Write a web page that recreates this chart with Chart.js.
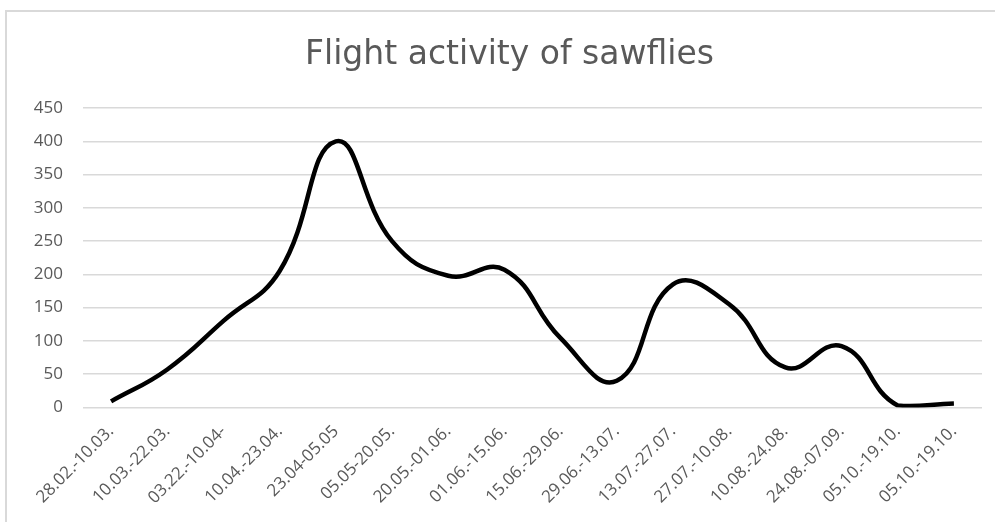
<!DOCTYPE html>
<html>
<head>
<meta charset="utf-8">
<script src="https://cdn.jsdelivr.net/npm/chart.js@4"></script>
<style>
    html, body { margin: 0; padding: 0; background: #fff; overflow: hidden; }
    #frame {
        position: absolute;
        left: 5px;
        top: 10px;
        width: 1020px;
        height: 530px;
        border: 2px solid #d9d9d9;
        box-sizing: border-box;
    }
    #wrap {
        position: absolute;
        left: 7px;
        top: 12px;
        width: 1008px;
        height: 510px;
    }
</style>
</head>
<body>
<div id="frame"></div>
<div id="wrap"><canvas id="sawflyChart"></canvas></div>
<script>
const periods = [
    '28.02.-10.03.', '10.03.-22.03.', '03.22.-10.04-', '10.04.-23.04.',
    '23.04-05.05', '05.05-20.05.', '20.05.-01.06.', '01.06.-15.06.',
    '15.06.-29.06.', '29.06.-13.07.', '13.07.-27.07.', '27.07.-10.08.',
    '10.08.-24.08.', '24.08.-07.09.', '05.10.-19.10.', '05.10.-19.10.'
];
const sawflies = [9, 57, 130, 205, 400, 250, 198, 207, 104, 40, 185, 155, 60, 92, 3, 6];
const yTicks = [0, 50, 100, 150, 200, 250, 300, 350, 400, 450];

const txtColor = '#595959';
const gridColor = '#d9d9d9';

const ctx = document.getElementById('sawflyChart');

// the excel title is centred on the whole chart frame, which runs past the right edge
const nudgeTitle = {
    id: 'nudgeTitle',
    afterLayout(chart) {
        if (chart.titleBlock) {
            chart.titleBlock.left += 18;
        }
    }
};

new Chart(ctx, {
    type: 'line',
    data: {
        labels: periods,
        datasets: [{
            data: sawflies,
            borderColor: '#000000',
            borderWidth: 4.5,
            pointRadius: 0,
            tension: 0.45,
            fill: false
        }]
    },
    options: {
        responsive: true,
        maintainAspectRatio: false,
        animation: false,
        layout: {
            padding: { left: 12, right: 33, top: 0, bottom: 8 }
        },
        scales: {
            x: {
                offset: true,
                grid: { display: false },
                border: { display: false },
                ticks: {
                    color: txtColor,
                    font: { family: 'Open Sans', size: 17 },
                    maxRotation: 45,
                    minRotation: 45,
                    autoSkip: false,
                    padding: 6
                }
            },
            y: {
                min: 0,
                max: 450,
                afterBuildTicks: (axis) => {
                    axis.ticks = yTicks.map(v => ({ value: v }));
                },
                afterFit: (axis) => {
                    axis.width = 64;
                },
                grid: {
                    color: gridColor,
                    lineWidth: 1.5,
                    drawTicks: false
                },
                border: { display: false },
                ticks: {
                    color: txtColor,
                    font: { family: 'Open Sans', size: 17 },
                    padding: 20
                }
            }
        },
        plugins: {
            legend: { display: false },
            tooltip: { enabled: false },
            title: {
                display: true,
                text: 'Flight activity of sawflies',
                color: txtColor,
                font: { family: 'DejaVu Sans', size: 33, weight: 'normal' },
                padding: { top: 24, bottom: 32.5 }
            }
        }
    },
    plugins: [nudgeTitle]
});
</script>
</body>
</html>
